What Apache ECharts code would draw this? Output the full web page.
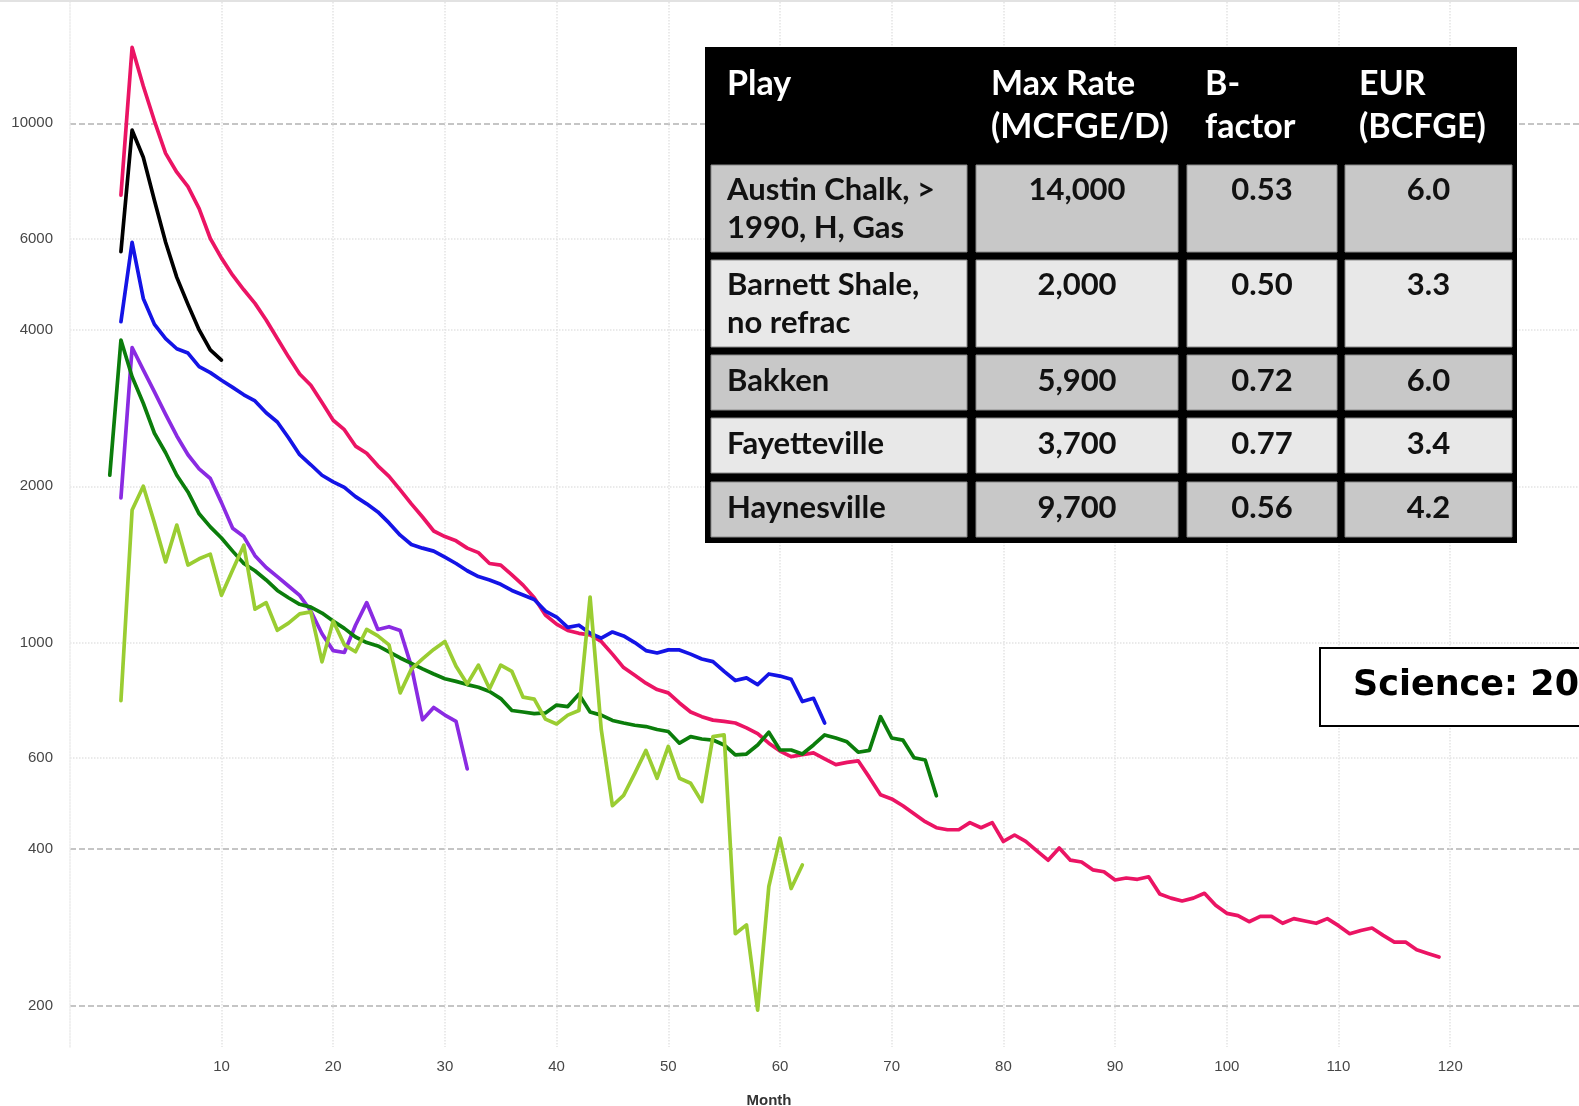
<!DOCTYPE html>
<html>
<head>
<meta charset="utf-8">
<title>Shale play decline curves</title>
<script src="https://cdn.jsdelivr.net/npm/echarts/dist/echarts.min.js"></script>
<style>
  html, body { margin: 0; padding: 0; background: #ffffff; }
  #chart { width: 1579px; height: 1106px; }
</style>
</head>
<body>
<div id="chart"></div>
<script>
// Monthly production rate (MCFGE/D) by play, one value per month.
const austinChalkStart = 1;
const austinChalk = [7270, 14000, 11800, 10100, 8750, 8050, 7550, 6850, 6000, 5500,
  5100, 4780, 4500, 4180, 3850, 3550, 3290, 3130, 2900, 2680,
  2570, 2390, 2315, 2190, 2090, 1968, 1850, 1745, 1640, 1600,
  1570, 1520, 1490, 1420, 1410, 1350, 1290, 1220, 1130, 1085,
  1055, 1042, 1035, 1005, 950, 895, 865, 835, 812, 800,
  765, 735, 720, 709, 705, 700, 685, 668, 640, 618,
  603, 608, 613, 597, 582, 588, 592, 550, 509, 500,
  485, 468, 452, 440, 436, 436, 450, 440, 450, 414,
  426, 414, 397, 381, 402, 381, 378, 365, 362, 349,
  352, 350, 354, 328, 322, 318, 322, 329, 312, 301,
  298, 290, 297, 297, 288, 294, 291, 288, 294, 285,
  275, 279, 282, 273, 265, 265, 256, 252, 248];

const haynesvilleStart = 1;
const haynesville = [5660, 9700, 8600, 7100, 5900, 5050, 4480, 4000, 3660, 3500];

const bakkenStart = 1;
const bakken = [4150, 5900, 4600, 4100, 3850, 3680, 3610, 3400, 3310, 3200,
  3100, 3000, 2920, 2770, 2660, 2480, 2300, 2200, 2100, 2040,
  1990, 1910, 1850, 1785, 1700, 1610, 1545, 1520, 1500, 1460,
  1420, 1375, 1340, 1320, 1295, 1260, 1235, 1210, 1150, 1120,
  1070, 1080, 1042, 1020, 1048, 1030, 1000, 965, 955, 968,
  968, 950, 930, 919, 880, 845, 855, 830, 870, 862,
  850, 770, 781, 700];

const greenStart = 0;
const greenPlay = [2100, 3825, 3250, 2890, 2530, 2320, 2100, 1950, 1770, 1670,
  1590, 1500, 1420, 1375, 1320, 1260, 1220, 1185, 1170, 1140,
  1100, 1065, 1025, 1000, 985, 960, 934, 912, 890, 870,
  852, 842, 830, 820, 805, 780, 740, 735, 730, 732,
  758, 753, 795, 735, 725, 708, 700, 693, 689, 680,
  674, 640, 659, 652, 649, 635, 608, 610, 635, 672,
  621, 621, 610, 635, 664, 655, 644, 615, 620, 720,
  655, 649, 600, 594, 507];

const fayettevilleStart = 1;
const fayetteville = [1900, 3700, 3350, 3040, 2750, 2500, 2300, 2160, 2070, 1860,
  1660, 1600, 1470, 1395, 1340, 1285, 1233, 1150, 1040, 965,
  957, 1080, 1194, 1060, 1073, 1055, 900, 710, 750, 725,
  705, 571];

const barnettStart = 1;
const barnett = [773, 1800, 2000, 1700, 1430, 1684, 1410, 1450, 1480, 1233,
  1380, 1540, 1160, 1194, 1056, 1090, 1136, 1146, 918, 1100,
  990, 960, 1060, 1030, 990, 800, 889, 930, 970, 1005,
  900, 832, 905, 815, 905, 880, 785, 778, 712, 697,
  725, 740, 1224, 680, 485, 508, 560, 620, 548, 631,
  548, 536, 494, 659, 664, 275, 286, 196, 339, 420,
  336, 373];

// Axis tick labels
const xTickLabels = [10, 20, 30, 40, 50, 60, 70, 80, 90, 100, 110, 120];
const yTickLabels = [200, 400, 600, 1000, 2000, 4000, 6000, 10000];
const yMajorLines = [200, 400, 10000];
const yMinorLines = [600, 1000, 2000, 4000, 6000];

// Summary table
const tableHeaders = [['Play'], ['Max Rate', '(MCFGE/D)'], ['B-', 'factor'], ['EUR', '(BCFGE)']];
const plays = [['Austin Chalk, >', '1990, H, Gas'], ['Barnett Shale,', 'no refrac'], ['Bakken'], ['Fayetteville'], ['Haynesville']];
const maxRates = ['14,000', '2,000', '5,900', '3,700', '9,700'];
const bFactors = ['0.53', '0.50', '0.72', '0.77', '0.56'];
const eurs = ['6.0', '3.3', '6.0', '3.4', '4.2'];

function toPairs(start, values) {
  return values.map((v, i) => [start + i, v]);
}

function lineSeries(name, color, start, values) {
  return {
    name: name,
    type: 'line',
    data: toPairs(start, values),
    showSymbol: false,
    symbol: 'none',
    smooth: false,
    lineStyle: { color: color, width: 3.7, join: 'round', cap: 'round' },
    itemStyle: { color: color },
    emphasis: { disabled: true }
  };
}

// ---- table graphics ----
const tableFont = 'Lato, "Open Sans", sans-serif';
const colX = [[711, 967], [976, 1178], [1187, 1337], [1345, 1512]];
const rowY = [[165, 252], [260, 347], [355, 410], [418, 473], [482, 537]];
const rowFill = ['#c8c8c8', '#e8e8e8', '#c8c8c8', '#e8e8e8', '#c8c8c8'];
const headerX = [727, 991, 1205, 1359];
const headerY = [84, 127];

function txt(text, x, y, font, fill, align) {
  return {
    type: 'text', z: 100,
    style: {
      text: text, x: x, y: y, font: font, fill: fill,
      align: align, textAlign: align,
      verticalAlign: 'middle', textVerticalAlign: 'middle'
    }
  };
}

const graphics = [];
// thin frame line along the top edge
graphics.push({ type: 'rect', z: 100, shape: { x: 0, y: 0, width: 1579, height: 2 }, style: { fill: '#e2e2e2' } });
// black table body
graphics.push({ type: 'rect', z: 100, shape: { x: 705, y: 47, width: 812, height: 496 }, style: { fill: '#000000' } });

tableHeaders.forEach((lines, c) => {
  lines.forEach((line, k) => {
    graphics.push(txt(line, headerX[c], headerY[k], 'bold 34px ' + tableFont, '#ffffff', 'left'));
  });
});

const bodyFont = 'bold 31px ' + tableFont;
for (let r = 0; r < plays.length; r++) {
  const [y0, y1] = rowY[r];
  for (let c = 0; c < 4; c++) {
    const [x0, x1] = colX[c];
    graphics.push({
      type: 'rect', z: 100,
      shape: { x: x0, y: y0, width: x1 - x0, height: y1 - y0 },
      style: { fill: rowFill[r], stroke: '#8a8a8a', lineWidth: 1 }
    });
  }
  const mid = (y0 + y1) / 2;
  const lines = plays[r];
  const firstY = lines.length > 1 ? mid - 19 : mid - 1.5;
  lines.forEach((line, k) => {
    graphics.push(txt(line, 727, firstY + k * 38, bodyFont, '#111111', 'left'));
  });
  const cells = [maxRates[r], bFactors[r], eurs[r]];
  cells.forEach((val, k) => {
    const [x0, x1] = colX[k + 1];
    graphics.push(txt(val, (x0 + x1) / 2, firstY, bodyFont, '#111111', 'center'));
  });
}

// citation box
graphics.push({ type: 'rect', z: 100, shape: { x: 1320, y: 648, width: 320, height: 78 }, style: { fill: '#ffffff', stroke: '#000000', lineWidth: 2 } });
graphics.push(txt('Science: 2012', 1353, 686, 'bold 35px "DejaVu Sans", sans-serif', '#000000', 'left'));

// x-axis title
graphics.push({
  type: 'text', z: 100,
  style: { text: 'Month', x: 769, y: 1093, font: 'bold 15px "Liberation Sans", Arial, sans-serif', fill: '#333333',
    align: 'center', textAlign: 'center', verticalAlign: 'top', textVerticalAlign: 'top' }
});

const axisFont = { fontFamily: '"Liberation Sans", Arial, sans-serif', fontSize: 15, color: '#474747' };
const plainNumber = (v) => String(Math.round(v));

const option = {
  animation: false,
  backgroundColor: '#ffffff',
  grid: { left: 70, right: 0, top: 2, bottom: 59, containLabel: false },
  xAxis: {
    type: 'value',
    min: -3.56,
    max: 131.53,
    axisLine: { show: false },
    axisTick: { show: false, customValues: xTickLabels },
    axisLabel: Object.assign({ customValues: xTickLabels, margin: 12, formatter: plainNumber }, axisFont),
    splitLine: { show: true, lineStyle: { color: '#e4e4e4', width: 1.5, type: 'dotted' } }
  },
  yAxis: [
    {
      type: 'log',
      logBase: 10,
      min: 166.4,
      max: 17124,
      axisLine: { show: true, onZero: false, lineStyle: { color: '#ebebeb', width: 1.5, type: 'dotted' } },
      axisTick: { show: false, customValues: yMinorLines },
      axisLabel: Object.assign({ customValues: yTickLabels, margin: 17, formatter: plainNumber }, axisFont),
      splitLine: { show: true, lineStyle: { color: '#e4e4e4', width: 1.5, type: 'dotted' } }
    },
    {
      type: 'log',
      logBase: 10,
      min: 166.4,
      max: 17124,
      position: 'left',
      axisLine: { show: false, onZero: false },
      axisTick: { show: false, customValues: yMajorLines },
      axisLabel: { show: false },
      splitLine: { show: true, lineStyle: { color: '#b2b2b2', width: 1.5, type: [6, 3] } }
    }
  ],
  series: [
    lineSeries('Austin Chalk', '#eb1464', austinChalkStart, austinChalk),
    lineSeries('Haynesville', '#000000', haynesvilleStart, haynesville),
    lineSeries('Bakken', '#1414e6', bakkenStart, bakken),
    lineSeries('Fayetteville', '#8a2be2', fayettevilleStart, fayetteville),
    lineSeries('Other play', '#0b7d0b', greenStart, greenPlay),
    lineSeries('Barnett Shale', '#9acd32', barnettStart, barnett)
  ],
  graphic: graphics
};

const chart = echarts.init(document.getElementById('chart'), null, { renderer: 'canvas' });
chart.setOption(option);
</script>
</body>
</html>
